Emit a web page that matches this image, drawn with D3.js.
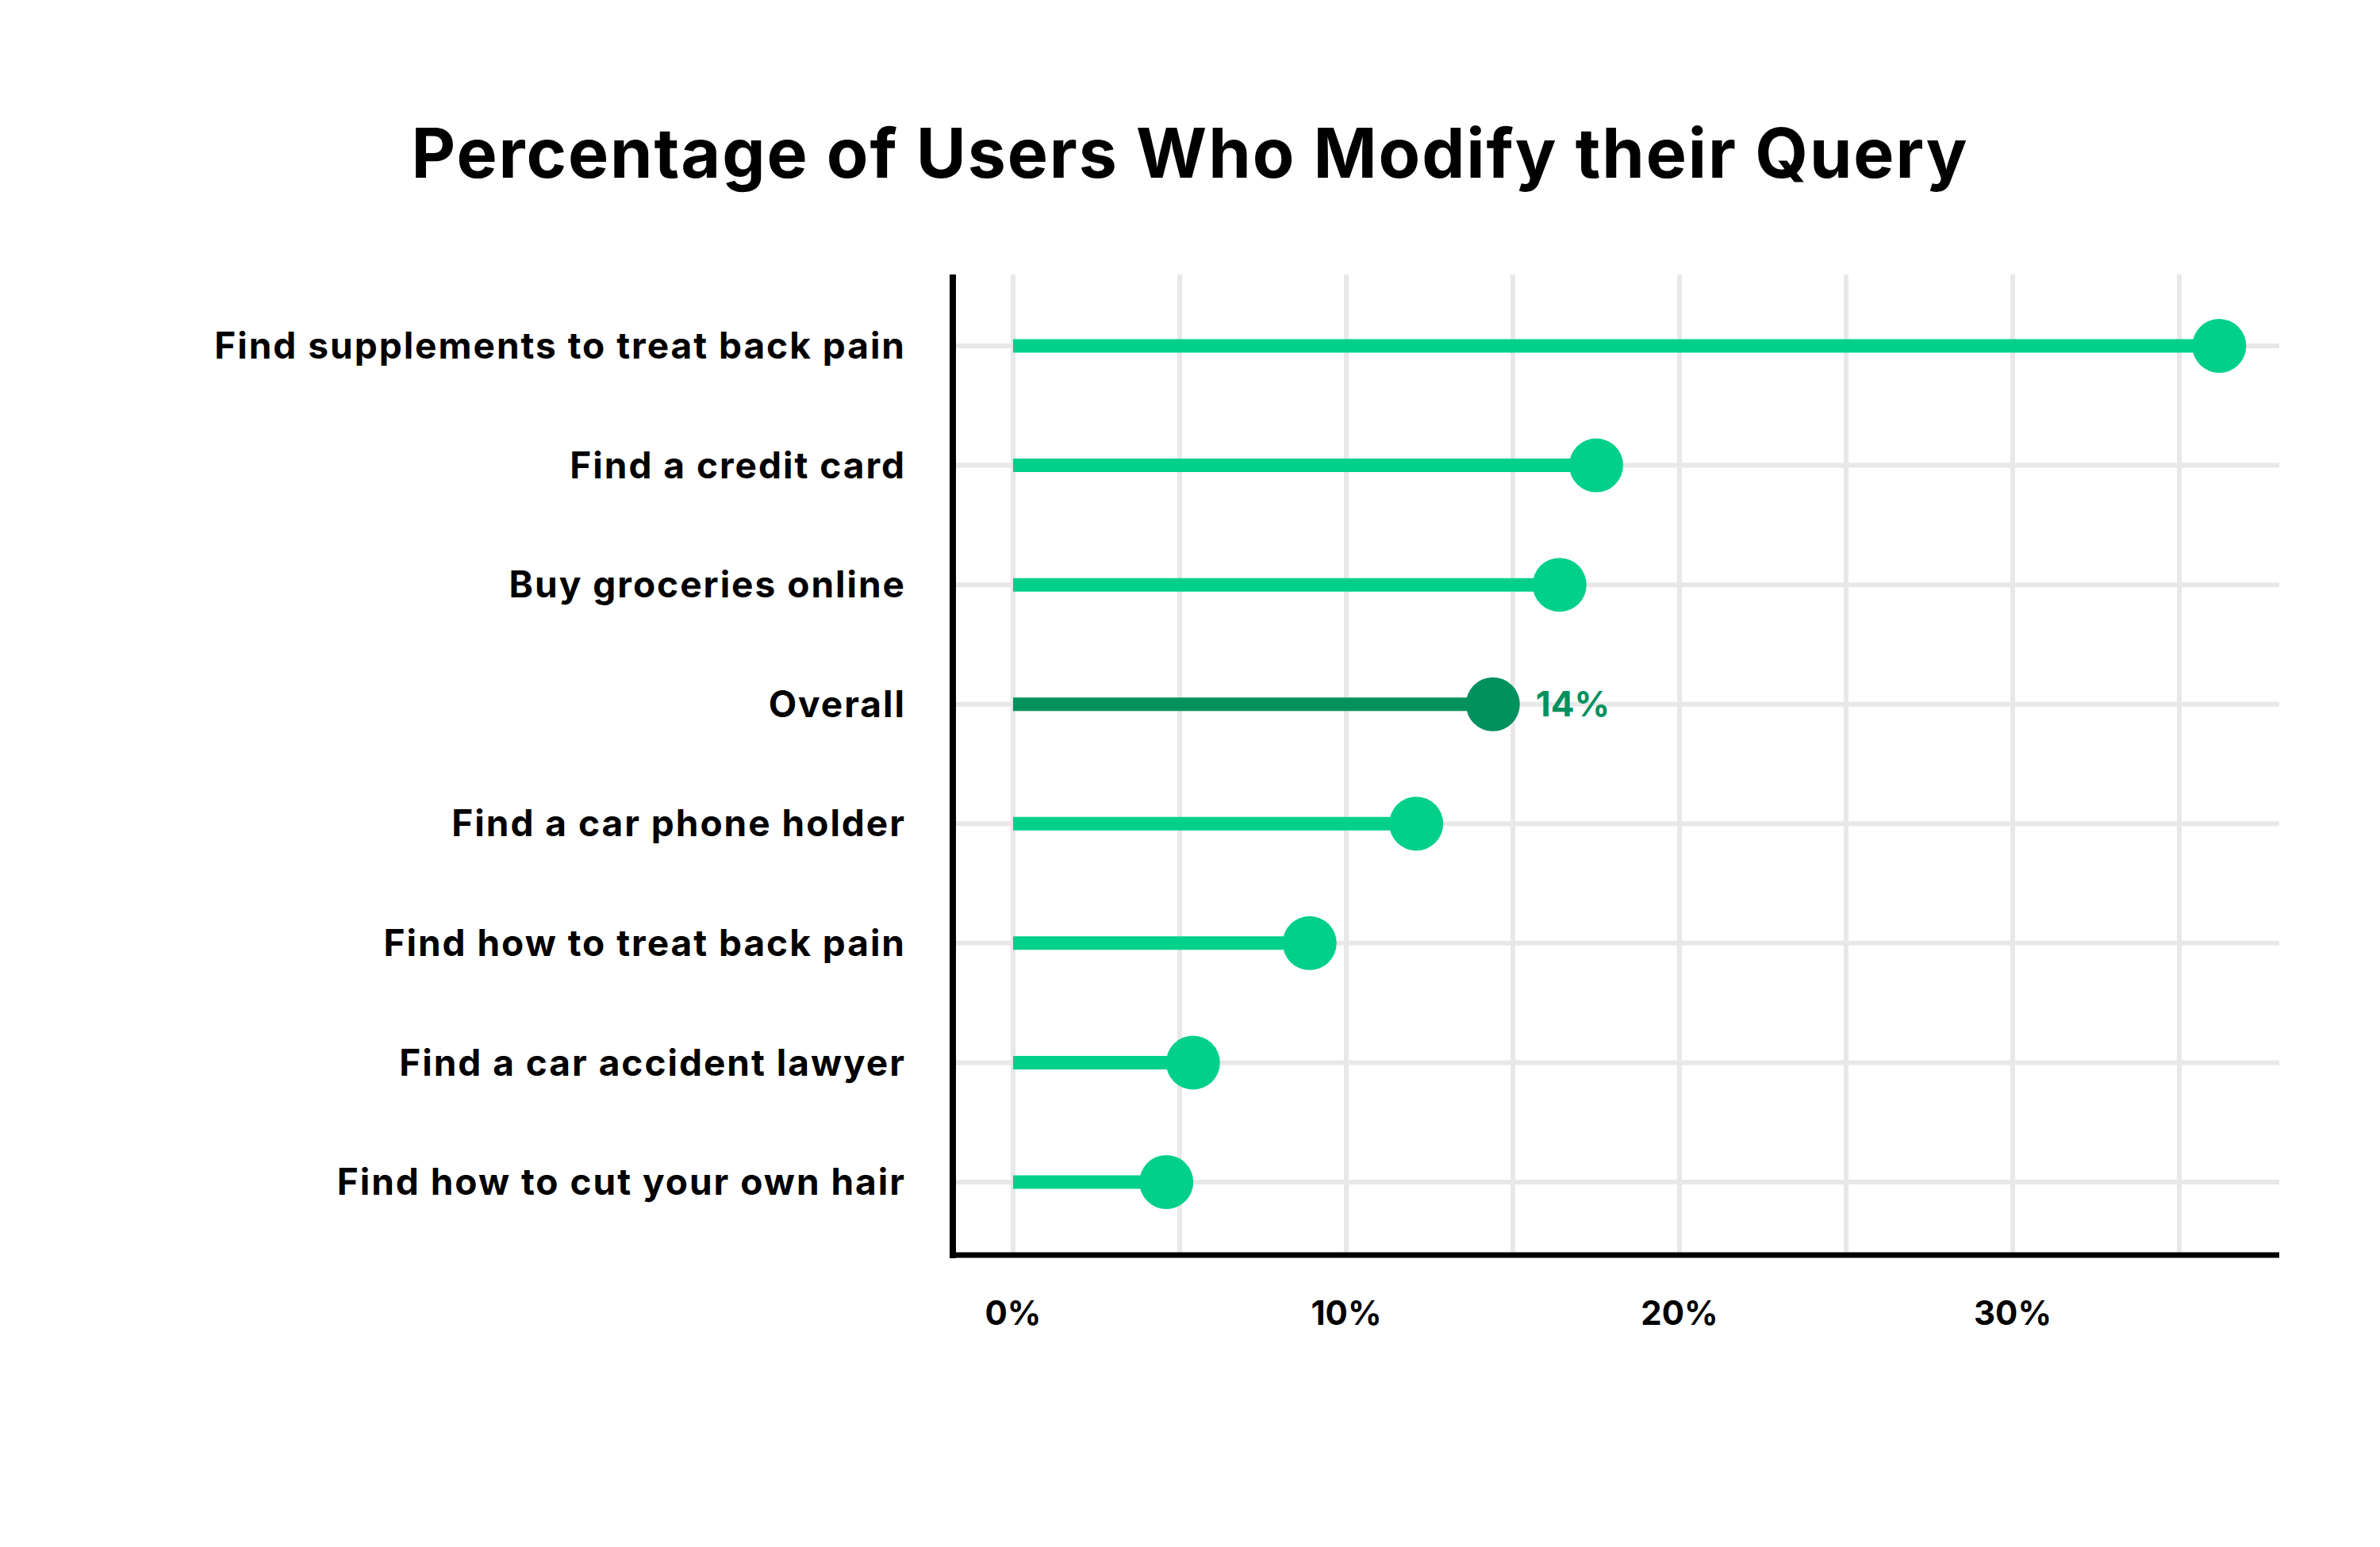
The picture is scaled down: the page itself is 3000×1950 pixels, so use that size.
<!DOCTYPE html>
<html>
<head>
<meta charset="utf-8">
<script src="https://cdn.jsdelivr.net/npm/d3@7"></script>
<style>
  body { margin: 0; background: #fff; }
  text { font-family: Inter, "Open Sans", sans-serif; font-weight: 700; }
</style>
</head>
<body>
<div id="chart"></div>
<script>
var svgWidth = 3000, svgHeight = 1950;

// data
var categories = [
  "Find supplements to treat back pain",
  "Find a credit card",
  "Buy groceries online",
  "Overall",
  "Find a car phone holder",
  "Find how to treat back pain",
  "Find a car accident lawyer",
  "Find how to cut your own hair"
];
var values = [36.2, 17.5, 16.4, 14.4, 12.1, 8.9, 5.4, 4.6];
var highlight = "Overall";
var highlightLabel = "14%";
var tickValues = [0, 10, 20, 30];
var gridValues = [0, 5, 10, 15, 20, 25, 30, 35];

var green = "#00d08a", darkGreen = "#00915e", grid = "#e8e8e8";

var svg = d3.select("#chart").append("svg")
    .attr("width", svgWidth)
    .attr("height", svgHeight);

// scales
var xScale = d3.scaleLinear().domain([0, 38]).range([1277, 2873]);
var yScale = d3.scalePoint().domain(categories).range([436, 1490]);
var axisTop = 346, axisBottom = 1582, axisLeft = 1201;

// title
svg.append("text")
    .attr("x", 1500)
    .attr("y", 224)
    .attr("text-anchor", "middle")
    .style("font-size", "86px")
    .style("letter-spacing", "1.9px")
    .attr("fill", "#000")
    .text("Percentage of Users Who Modify their Query");

// vertical gridlines
svg.selectAll(".vgrid")
    .data(gridValues)
    .enter().append("line")
    .attr("class", "vgrid")
    .attr("x1", function(d) { return xScale(d); })
    .attr("x2", function(d) { return xScale(d); })
    .attr("y1", axisTop)
    .attr("y2", axisBottom)
    .attr("stroke", grid)
    .attr("stroke-width", 6);

// horizontal gridlines
svg.selectAll(".hgrid")
    .data(categories)
    .enter().append("line")
    .attr("class", "hgrid")
    .attr("x1", axisLeft)
    .attr("x2", xScale(38))
    .attr("y1", function(d) { return yScale(d); })
    .attr("y2", function(d) { return yScale(d); })
    .attr("stroke", grid)
    .attr("stroke-width", 6);

// stems
svg.selectAll(".stem")
    .data(values)
    .enter().append("line")
    .attr("class", "stem")
    .attr("x1", xScale(0))
    .attr("x2", function(d) { return xScale(d); })
    .attr("y1", function(d, i) { return yScale(categories[i]); })
    .attr("y2", function(d, i) { return yScale(categories[i]); })
    .attr("stroke", function(d, i) { return categories[i] === highlight ? darkGreen : green; })
    .attr("stroke-width", 17);

// dots
svg.selectAll(".dot")
    .data(values)
    .enter().append("circle")
    .attr("class", "dot")
    .attr("cx", function(d) { return xScale(d); })
    .attr("cy", function(d, i) { return yScale(categories[i]); })
    .attr("r", 34)
    .attr("fill", function(d, i) { return categories[i] === highlight ? darkGreen : green; });

// highlight label
var hi = categories.indexOf(highlight);
svg.append("text")
    .attr("x", xScale(values[hi]) + 54)
    .attr("y", yScale(highlight))
    .attr("dy", "0.35em")
    .style("font-size", "44px")
    .attr("fill", darkGreen)
    .text(highlightLabel);

// category labels
svg.selectAll(".cat")
    .data(categories)
    .enter().append("text")
    .attr("class", "cat")
    .attr("x", 1142)
    .attr("y", function(d) { return yScale(d); })
    .attr("dy", "0.35em")
    .attr("text-anchor", "end")
    .style("font-size", "46px")
    .style("letter-spacing", "2px")
    .attr("fill", "#000")
    .text(function(d) { return d; });

// axis lines
svg.append("line")
    .attr("x1", axisLeft).attr("x2", axisLeft)
    .attr("y1", axisTop).attr("y2", axisBottom + 4)
    .attr("stroke", "#000").attr("stroke-width", 8);
svg.append("line")
    .attr("x1", axisLeft - 4).attr("x2", xScale(38))
    .attr("y1", axisBottom).attr("y2", axisBottom)
    .attr("stroke", "#000").attr("stroke-width", 7);

// tick labels
svg.selectAll(".tick")
    .data(tickValues)
    .enter().append("text")
    .attr("class", "tick")
    .attr("x", function(d) { return xScale(d); })
    .attr("y", 1670)
    .attr("text-anchor", "middle")
    .style("font-size", "42px")
    .attr("fill", "#000")
    .text(function(d) { return d + "%"; });
</script>
</body>
</html>
